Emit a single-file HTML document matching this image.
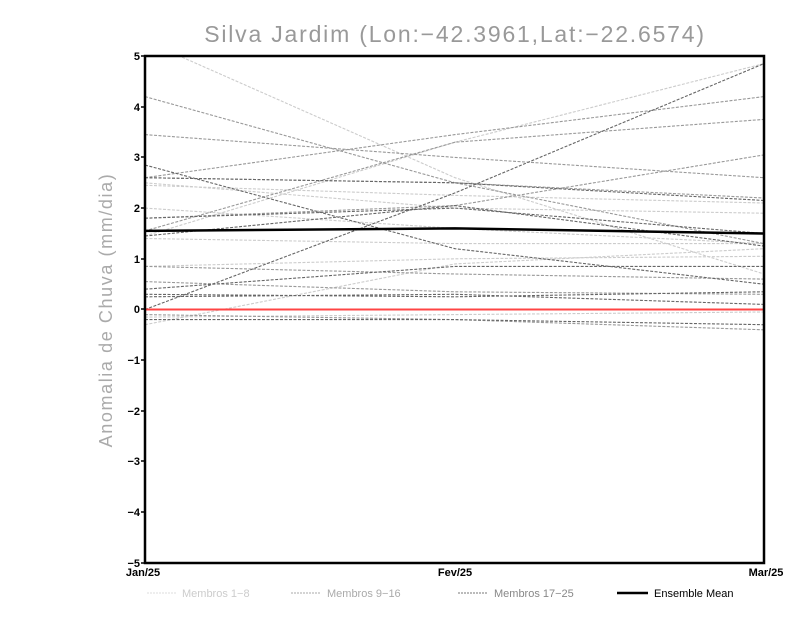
<!DOCTYPE html>
<html><head><style>body{margin:0;background:#fff}svg{display:block}</style></head><body>
<svg width="800" height="618" xmlns="http://www.w3.org/2000/svg" font-family="Liberation Sans, sans-serif">
<rect width="800" height="618" fill="#fff"/>
<text x="455" y="42" text-anchor="middle" font-size="23" fill="#999" letter-spacing="1.8">Silva Jardim (Lon:−42.3961,Lat:−22.6574)</text>
<text transform="translate(112,310) rotate(-90)" text-anchor="middle" font-size="18" fill="#aaa" letter-spacing="1.6">Anomalia de Chuva (mm/dia)</text>
<clipPath id="c"><rect x="145" y="56" width="619" height="507"/></clipPath>
<g clip-path="url(#c)" fill="none" stroke-width="1.1" stroke-dasharray="3,1.5">
<g stroke="#ccc">
<polyline points="145,40.8 455,177.7 764,274"/>
<polyline points="145,236 455,142.2 764,63.6"/>
<polyline points="145,182.8 455,208.1 764,213.2"/>
<polyline points="145,185.3 455,195.4 764,203"/>
<polyline points="145,208.1 455,228.4 764,243.6"/>
<polyline points="145,238.5 455,243.6 764,243.6"/>
<polyline points="145,324.7 455,263.9 764,248.7"/>
<polyline points="145,266.4 455,258.8 764,256.3"/>
<polyline points="145,317.1 455,314.6 764,312"/>
</g>
<g stroke="#999">
<polyline points="145,96.6 455,182.8 764,198"/>
<polyline points="145,134.6 455,157.4 764,177.7"/>
<polyline points="145,177.7 455,134.6 764,96.6"/>
<polyline points="145,177.7 455,182.8 764,243.6"/>
<polyline points="145,218.2 455,205.6 764,154.9"/>
<polyline points="145,230.9 455,142.2 764,119.4"/>
<polyline points="145,266.4 455,274 764,279.1"/>
<polyline points="145,281.6 455,291.8 764,294.3"/>
<polyline points="145,314.6 455,319.6 764,329.8"/>
</g>
<g stroke="#666">
<polyline points="145,309.5 455,192.9 764,63.6"/>
<polyline points="145,165 455,248.7 764,284.2"/>
<polyline points="145,218.2 455,208.1 764,233.5"/>
<polyline points="145,236 455,205.6 764,246.1"/>
<polyline points="145,289.2 455,266.4 764,266.4"/>
<polyline points="145,294.3 455,296.8 764,291.8"/>
<polyline points="145,296.8 455,294.3 764,304.4"/>
<polyline points="145,319.6 455,319.6 764,324.7"/>
<polyline points="145,177.7 455,182.8 764,200.5"/>
</g>
</g>
<line x1="145" y1="309.5" x2="764" y2="309.5" stroke="#f44" stroke-width="2"/>
<polyline points="145,230.9 455,228.4 764,233.5" fill="none" stroke="#000" stroke-width="2.5"/>
<rect x="145" y="56" width="619" height="507" fill="none" stroke="#000" stroke-width="2.5"/>
<g font-size="11" font-weight="bold" text-anchor="end" fill="#000">
<text x="140" y="60">5</text><text x="140" y="111">4</text><text x="140" y="161">3</text><text x="140" y="212">2</text><text x="140" y="263">1</text><text x="140" y="313">0</text><text x="140" y="364">−1</text><text x="140" y="415">−2</text><text x="140" y="465">−3</text><text x="140" y="516">−4</text><text x="140" y="567">−5</text>
</g>
<g stroke="#000" stroke-width="1.5"><line x1="141" y1="56" x2="145" y2="56"/><line x1="141" y1="107" x2="145" y2="107"/><line x1="141" y1="157" x2="145" y2="157"/><line x1="141" y1="208" x2="145" y2="208"/><line x1="141" y1="259" x2="145" y2="259"/><line x1="141" y1="309" x2="145" y2="309"/><line x1="141" y1="360" x2="145" y2="360"/><line x1="141" y1="411" x2="145" y2="411"/><line x1="141" y1="461" x2="145" y2="461"/><line x1="141" y1="512" x2="145" y2="512"/><line x1="141" y1="563" x2="145" y2="563"/></g>
<g font-size="11" font-weight="bold" text-anchor="middle" fill="#000">
<text x="143" y="576">Jan/25</text><text x="455" y="576">Fev/25</text><text x="766" y="576">Mar/25</text>
</g>
<g font-size="11" fill="#bbb">
<line x1="147" y1="593" x2="177" y2="593" stroke="#ddd" stroke-dasharray="2,1"/><text x="182" y="597" fill="#ccc">Membros 1−8</text>
<line x1="291" y1="593" x2="321" y2="593" stroke="#aaa" stroke-dasharray="2,1"/><text x="327" y="597" fill="#aaa">Membros 9−16</text>
<line x1="458" y1="593" x2="488" y2="593" stroke="#777" stroke-dasharray="2,1"/><text x="494" y="597" fill="#888">Membros 17−25</text>
<line x1="617" y1="593" x2="648" y2="593" stroke="#000" stroke-width="2.5"/><text x="654" y="597" fill="#000">Ensemble Mean</text>
</g>
</svg>
</body></html>
